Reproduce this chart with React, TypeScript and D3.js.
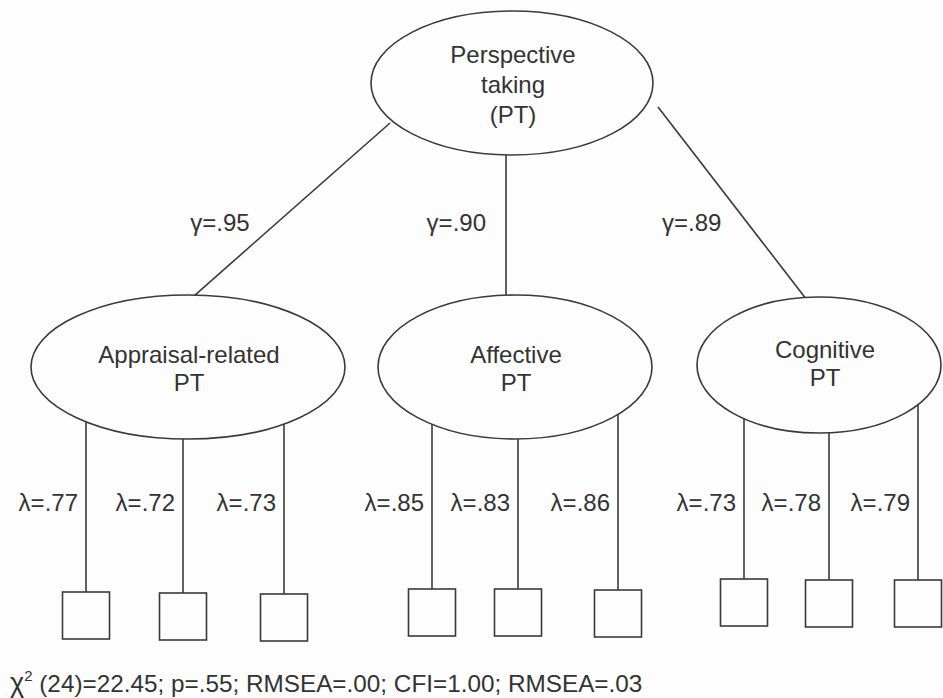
import React from "react";
import * as d3 from "d3";

const topFactor = ["Perspective", "taking", "(PT)"];
const factorNames = [["Appraisal-related", "PT"], ["Affective", "PT"], ["Cognitive", "PT"]];
const gammas = [".95", ".90", ".89"];
const lambdas = [[".77", ".72", ".73"], [".85", ".83", ".86"], [".73", ".78", ".79"]];
const fitText = " (24)=22.45; p=.55; RMSEA=.00; CFI=1.00; RMSEA=.03";

const W = 943, H = 698;
const FONT = "'Liberation Sans', Arial, Helvetica, sans-serif";
const INK = "#333";

// layout
const top = { cx: 512, cy: 83, rx: 141, ry: 72 };
const subs = [
  { cx: 188, cy: 367, rx: 157, ry: 72 },
  { cx: 515, cy: 367, rx: 137, ry: 72 },
  { cx: 819, cy: 365, rx: 122, ry: 68 },
];
const topStarts = [[390, 123], [506, 155], [658, 107]];
const gammaPos = [[220, 231, "middle"], [486, 231, "end"], [662, 231, "start"]];
const indX = [[86, 183, 284], [432, 518, 618], [744, 829, 918]];
const sqTop = [[592, 593, 594], [589, 589, 590], [579, 580, 580]];
const SQ = 47;

function ellipseBottomY(e: any, x: number) {
  const t = (x - e.cx) / e.rx;
  return e.cy + e.ry * Math.sqrt(Math.max(0, 1 - t * t));
}

export default function App() {
  const line = d3.line();
  return (
    <svg width={W} height={H} style={{ position: "absolute", left: 0, top: 0, background: "#fff" }}
      fontFamily={FONT} fill={INK}>
      <rect width={W} height={H} fill="#fdfdfd" />
      <g stroke="#3a3a3a" strokeWidth={1.6} fill="none">
        <ellipse cx={top.cx} cy={top.cy} rx={top.rx} ry={top.ry} />
        {subs.map((e, i) => (
          <ellipse key={i} cx={e.cx} cy={e.cy} rx={e.rx} ry={e.ry} />
        ))}
        {subs.map((e, i) => {
          const s = topStarts[i];
          const endX = i === 0 ? 195 : i === 1 ? 506 : 805;
          const endY = e.cy - e.ry * Math.sqrt(Math.max(0, 1 - ((endX - e.cx) / e.rx) ** 2));
          return <path key={"g" + i} d={line([[s[0], s[1]], [endX, endY]]) as string} />;
        })}
        {subs.map((e, i) =>
          indX[i].map((x, j) => (
            <g key={i + "-" + j}>
              <path d={line([[x, ellipseBottomY(e, x)], [x, sqTop[i][j]]]) as string} />
              <rect x={x - SQ / 2} y={sqTop[i][j]} width={SQ} height={SQ} />
            </g>
          ))
        )}
      </g>
      <g fontSize={24} textAnchor="middle" fill={INK}>
        {topFactor.map((t, k) => (
          <text key={k} x={513} y={63 + k * 30}>{t}</text>
        ))}
        {subs.map((e, i) =>
          factorNames[i].map((t, k) => (
            <text key={i + "n" + k} x={i === 2 ? 825 : e.cx + 1} y={(i === 2 ? 358 : 363) + k * 28}>{t}</text>
          ))
        )}
        {gammas.map((g, i) => (
          <text key={"gm" + i} x={gammaPos[i][0] as number} y={gammaPos[i][1] as number}
            textAnchor={gammaPos[i][2] as any}>{"\u03B3=" + g}</text>
        ))}
        {lambdas.map((row, i) =>
          row.map((l, j) => (
            <text key={"l" + i + j} x={indX[i][j] - 8} y={511} textAnchor="end">{"\u03BB=" + l}</text>
          ))
        )}
        <text x={10} y={692} textAnchor="start" fontSize={24.3}>
          <tspan fontSize={27}>{"\u03C7"}</tspan><tspan fontSize={15} dy={-11}>2</tspan><tspan dy={11}>{fitText}</tspan>
        </text>
      </g>
    </svg>
  );
}
